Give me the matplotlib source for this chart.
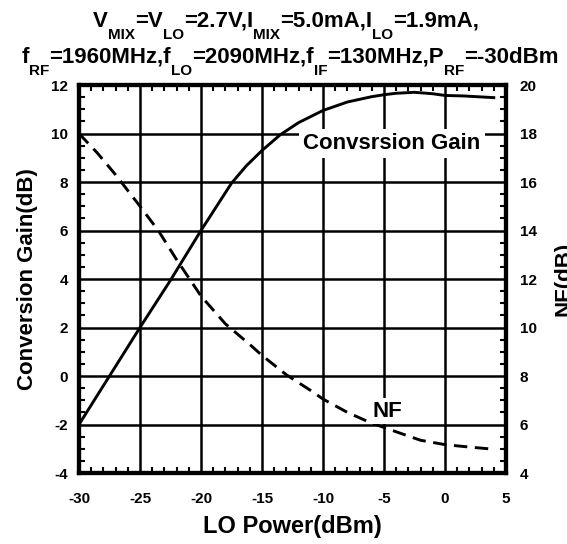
import numpy as np
import matplotlib
matplotlib.use("Agg")
import matplotlib.pyplot as plt
from matplotlib.ticker import MultipleLocator
from matplotlib.transforms import offset_copy

plt.rcParams['font.family'] = 'Liberation Sans'
plt.rcParams['font.weight'] = 'bold'
plt.rcParams['axes.labelweight'] = 'bold'
plt.rcParams['axes.unicode_minus'] = False

# conversion gain (left axis, dB)
lo_gain = [-30, -27.5, -25, -22.5, -20, -17.5, -16.3, -15, -13.5, -12, -10, -8, -6, -5, -4, -2.5, -1, 0, 1.5, 4]
gain = [-2, 0, 2, 3.95, 6, 7.95, 8.66, 9.3, 9.95, 10.45, 10.95, 11.3, 11.52, 11.6, 11.66, 11.7, 11.64, 11.57, 11.55, 11.48]

# noise figure (right axis, dB)
lo_nf = [-30, -28.5, -27, -25, -23.5, -22, -20, -18, -16, -15, -13, -11, -10, -8, -6, -5, -4, -2, 0, 2, 4]
nf = [18.0, 17.2, 16.3, 15.0, 14.0, 12.8, 11.3, 10.15, 9.3, 8.85, 8.05, 7.4, 7.05, 6.5, 6.05, 5.88, 5.7, 5.35, 5.17, 5.07, 4.98]

# title pieces: (text, is_subscript)
title1 = [('V', 0), ('MIX', 1), ('=V', 0), ('LO', 1), ('=2.7V,I', 0), ('MIX', 1),
          ('=5.0mA,I', 0), ('LO', 1), ('=1.9mA,', 0)]
title2 = [('f', 0), ('RF', 1), ('=1960MHz,f', 0), ('LO', 1), ('=2090MHz,f', 0), ('IF', 1),
          ('=130MHz,P', 0), ('RF', 1), ('=-30dBm', 0)]

fig = plt.figure(figsize=(5.67, 5.44), dpi=100)
ax = fig.add_axes([0.1393, 0.1305, 0.7531, 0.7132])
ax2 = ax.twinx()

ax.plot(lo_gain, gain, color='black', lw=2.1, zorder=3)
ax2.plot(lo_nf, nf, color='black', lw=2.1, ls=(0, (4.6, 2.6)))

ax.set_xlim(-30, 5)
ax.set_ylim(-4, 12)
ax2.set_ylim(4, 20)
ax.xaxis.set_major_locator(MultipleLocator(5))
ax.xaxis.set_minor_locator(MultipleLocator(1))
ax.yaxis.set_major_locator(MultipleLocator(2))
ax.yaxis.set_minor_locator(MultipleLocator(0.5))
ax2.yaxis.set_major_locator(MultipleLocator(2))
ax2.yaxis.set_minor_locator(MultipleLocator(0.5))
ax.grid(True, which='major', color='black', lw=1.8)

for a in (ax, ax2):
    a.tick_params(which='both', direction='in', labelsize=11, width=1.5)
    a.tick_params(which='major', length=0)
    a.tick_params(which='minor', length=4)
    for s in a.spines.values():
        s.set_linewidth(3)
ax.tick_params(which='minor', top=True)
ax.tick_params(axis='x', which='major', pad=14)
ax.tick_params(axis='y', which='major', pad=8)
ax2.tick_params(axis='y', which='major', pad=10)

ax.set_xlabel('LO Power(dBm)', fontsize=17, labelpad=6)
ax.set_ylabel('Conversion Gain(dB)', fontsize=16, labelpad=9)
ax2.set_ylabel('NF(dB)', fontsize=16, labelpad=12)

ax2.text(-4.35, 17.6, 'Convsrsion Gain', fontsize=16, ha='center', va='center',
         bbox=dict(facecolor='white', edgecolor='none', pad=3), zorder=5)
ax2.text(-4.75, 6.55, 'NF', fontsize=16, ha='center', va='center',
         bbox=dict(facecolor='white', edgecolor='none', pad=2), zorder=5)


def title_line(parts, xc, y):
    sub_tr = offset_copy(fig.transFigure, fig=fig, y=-8.5, units='points')
    objs = []
    for s, is_sub in parts:
        objs.append(fig.text(0, y, s, fontsize=11 if is_sub else 16, va='baseline',
                             transform=sub_tr if is_sub else fig.transFigure))
    r = fig.canvas.get_renderer()
    w = [t.get_window_extent(r).width / fig.bbox.width for t in objs]
    x = xc - sum(w) / 2
    for t, wi in zip(objs, w):
        t.set_x(x)
        x += wi


title_line(title1, 286 / 567, 1 - 27 / 544)
title_line(title2, 290 / 567, 1 - 63 / 544)

fig.savefig('out.png', dpi=100)
